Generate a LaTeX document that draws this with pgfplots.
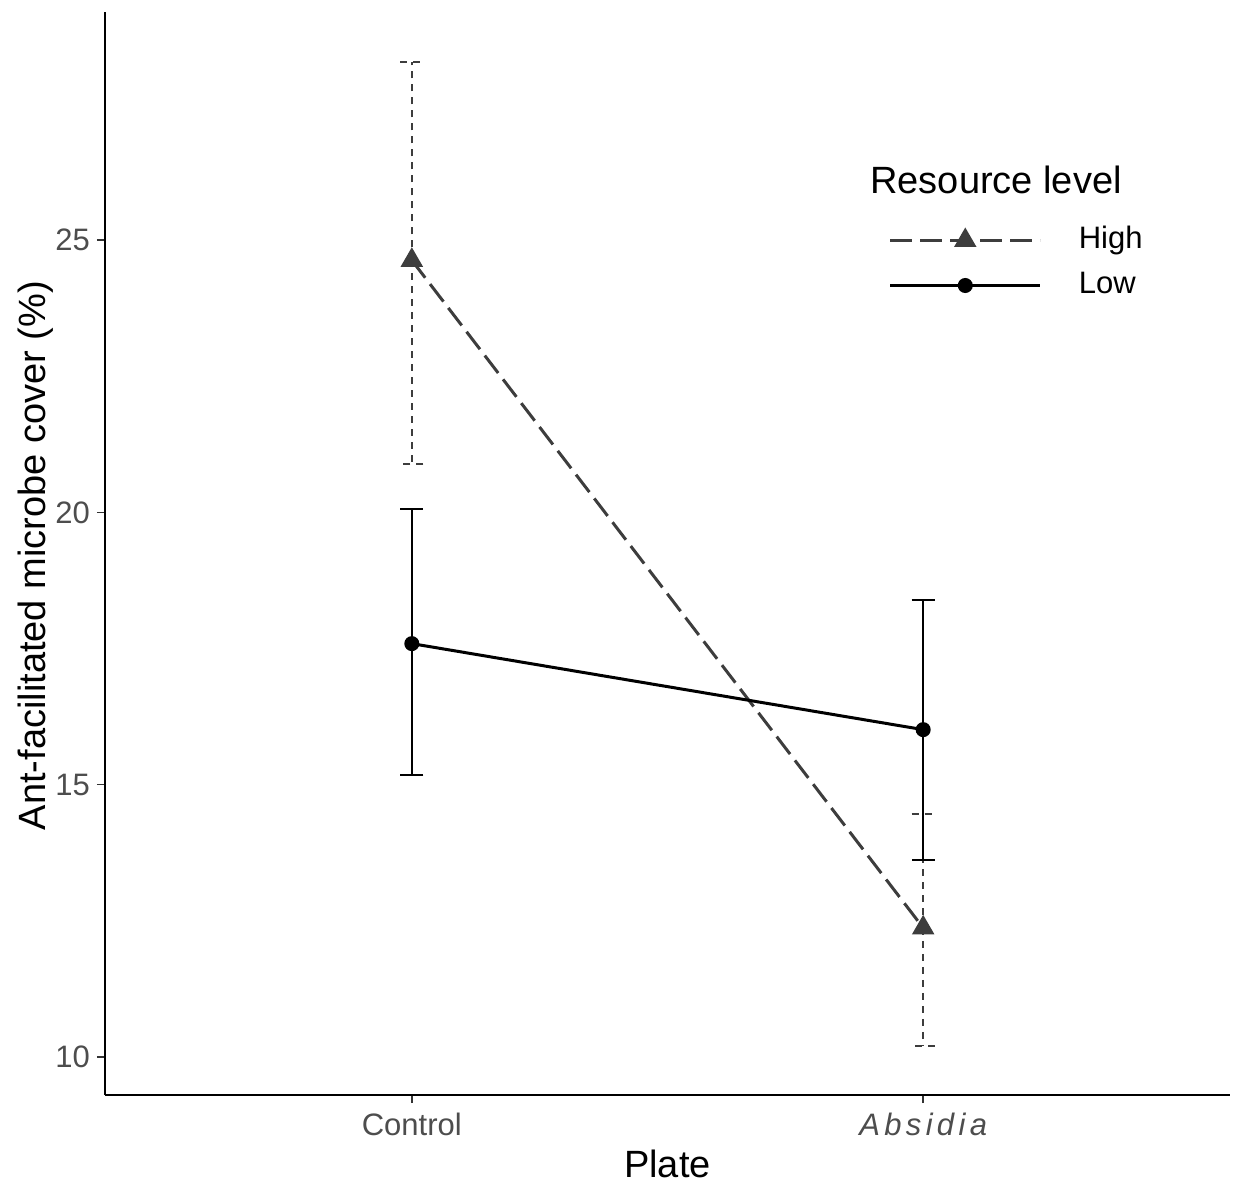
\documentclass[border=0pt]{standalone}
\usepackage{pgfplots}
\pgfplotsset{compat=1.18}
\usepackage{fontspec}
\setmainfont{Liberation Sans}
\usetikzlibrary{calc}
\definecolor{ticktext}{HTML}{4D4D4D}
\definecolor{tickline}{HTML}{333333}
\definecolor{highgrey}{HTML}{3D3D3D}

\begin{document}
\begin{tikzpicture}
\begin{axis}[
    name=ax,
    width=562.5pt, height=541.5pt,
    scale only axis,
    xmin=0.4, xmax=2.6,
    ymin=9.3, ymax=29.19,
    axis x line*=bottom, axis y line*=left,
    axis line style={line width=0.9pt, -},
    xtick={1,2},
    xticklabels={Control,{\itshape\addfontfeatures{LetterSpace=14}Absidia}},
    ytick={10,15,20,25},
    tick align=outside,
    major tick length=4pt,
    tick style={tickline, line width=0.8pt},
    tick label style={font=\fontsize{15.5}{18}\selectfont, text=ticktext},
    xticklabel style={yshift=-1.5pt},
    /pgf/number format/assume math mode=true,
    xlabel={Plate},
    ylabel={Ant-facilitated microbe cover (\%)},
    label style={font=\fontsize{19}{23}\selectfont},
    xlabel style={yshift=0pt},
    ylabel style={at={(axis description cs:-0.062,0.498)}, anchor=center},
    legend style={draw=none, fill=none,
        at={(axis description cs:0.691,0.806)}, anchor=north west,
        font=\fontsize{15.5}{18}\selectfont,
        nodes={inner sep=0pt, text height=11pt, text depth=3pt},
        row sep=8.5pt,
        /tikz/every odd column/.append style={column sep=18.5pt}},
    legend cell align=left,
    legend image code/.code={
        \draw[#1, mark repeat=2, mark phase=2]
            plot coordinates {(0pt,0pt) (37.5pt,0pt) (75pt,0pt)};
    },
]

% error bars, High
\addplot[forget plot, only marks, mark=none,
    error bars/.cd, y dir=both, y explicit,
    error bar style={highgrey, line width=1pt, dash pattern=on 3.5pt off 3pt},
    error mark options={rotate=90, highgrey, line width=1pt, mark size=5.75pt, dash pattern=on 3.5pt off 3pt}]
coordinates {
    (1,24.63) += (0,3.64) -= (0,3.75)
    (2,12.37) += (0,2.10) -= (0,2.17)
};

% error bars, Low
\addplot[forget plot, only marks, mark=none,
    error bars/.cd, y dir=both, y explicit,
    error bar style={black, line width=1pt, solid},
    error mark options={rotate=90, black, line width=1pt, mark size=5.75pt, solid}]
coordinates {
    (1,17.59) += (0,2.48) -= (0,2.42)
    (2,16.01) += (0,2.39) -= (0,2.39)
};

\addplot[highgrey, line width=1.5pt, dash pattern=on 11pt off 4pt,
    mark=triangle*, mark size=5pt, mark options={solid, fill=highgrey}]
coordinates {(1,24.63) (2,12.37)};
\addlegendentry{High}

\addplot[black, line width=1.5pt, mark=*, mark size=3pt, mark options={solid}]
coordinates {(1,17.59) (2,16.01)};
\addlegendentry{Low}

\node[anchor=west, inner sep=0pt, font=\fontsize{19}{23}\selectfont]
    at (axis description cs:0.680,0.845) {Resource level};
\end{axis}

\pgfresetboundingbox
\path ($(ax.south west)+(-52.5pt,-44.5pt)$) rectangle ($(ax.north east)+(2.5pt,6pt)$);
\end{tikzpicture}
\end{document}
